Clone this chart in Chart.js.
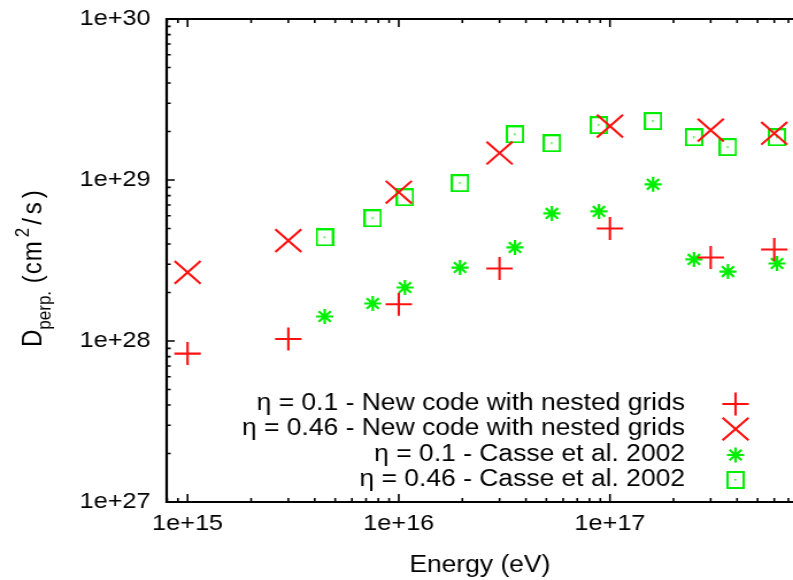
<!DOCTYPE html>
<html>
<head>
<meta charset="utf-8">
<script src="https://cdn.jsdelivr.net/npm/chart.js@4/dist/chart.umd.min.js"></script>
<style>
  html, body { margin: 0; padding: 0; background: #fff; overflow: hidden; }
  /* the source figure is stretched sideways, so the whole canvas is too */
  #wrap { width: 690px; height: 580px; transform: scaleX(1.1493); transform-origin: 0 0; }
</style>
</head>
<body>
<div id="wrap"><canvas id="chart" width="690" height="580"></canvas></div>
<script>
// ==========================================
// 1. Data
// ==========================================
const energyNew = [1e15, 3e15, 1e16, 3e16, 1e17, 3e17, 6e17];
const dNewEta01 = [8.35e27, 1.03e28, 1.69e28, 2.82e28, 5.0e28, 3.3e28, 3.7e28];
const dNewEta046 = [2.67e28, 4.2e28, 8.4e28, 1.47e29, 2.16e29, 2.04e29, 1.95e29];

const energyCasse = [4.46e15, 7.53e15, 1.07e16, 1.95e16, 3.55e16, 5.31e16, 8.87e16, 1.6e17, 2.5e17, 3.62e17, 6.18e17];
const dCasseEta01 = [1.42e28, 1.71e28, 2.15e28, 2.86e28, 3.81e28, 6.2e28, 6.38e28, 9.4e28, 3.21e28, 2.7e28, 3.03e28];
const dCasseEta046 = [4.4e28, 5.78e28, 7.8e28, 9.55e28, 1.92e29, 1.69e29, 2.19e29, 2.32e29, 1.84e29, 1.6e29, 1.84e29];

const seriesLabels = [
    'η = 0.1 - New code with nested grids',
    'η = 0.46 - New code with nested grids',
    'η = 0.1 - Casse et al. 2002',
    'η = 0.46 - Casse et al. 2002'
];
const xTicks = [1e15, 1e16, 1e17];
const yTicks = [1e27, 1e28, 1e29, 1e30];

const RED = '#ff1010';
const GREEN = '#00ee00';
const FONT = '"Liberation Sans", Arial, sans-serif';

// ==========================================
// 2. Helpers
// ==========================================
function pairs(xs, ys) {
    return xs.map((x, i) => ({ x: x, y: ys[i] }));
}

// gnuplot style box with a dot in the middle
function boxDot(color) {
    const c = document.createElement('canvas');
    c.width = 16; c.height = 18;
    const g = c.getContext('2d');
    g.strokeStyle = color;
    g.lineWidth = 2;
    g.strokeRect(1, 1, 14, 16);
    g.fillStyle = color;
    g.fillRect(7, 8, 1.5, 1.5);
    return c;
}
const boxStyle = boxDot(GREEN);

function expLabel(v) {
    return '1e+' + Math.round(Math.log10(v));
}

// keep the plot box exactly where the layout padding / sizes put it
function noEdgePadding(s) {
    s.paddingTop = 0; s.paddingBottom = 0;
    s.paddingLeft = 0; s.paddingRight = 0;
}

function drawMarker(ctx, ds, x, y) {
    const r = ds.pointRadius;
    ctx.save();
    ctx.strokeStyle = ds.borderColor;
    ctx.lineWidth = ds.borderWidth;
    ctx.beginPath();
    if (ds.pointStyle === 'cross' || ds.pointStyle === 'star') {
        ctx.moveTo(x - r, y); ctx.lineTo(x + r, y);
        ctx.moveTo(x, y - r); ctx.lineTo(x, y + r);
    }
    if (ds.pointStyle === 'crossRot' || ds.pointStyle === 'star') {
        const d = r * Math.SQRT1_2;
        ctx.moveTo(x - d, y - d); ctx.lineTo(x + d, y + d);
        ctx.moveTo(x - d, y + d); ctx.lineTo(x + d, y - d);
    }
    ctx.stroke();
    if (ds.pointStyle instanceof HTMLCanvasElement) {
        ctx.drawImage(ds.pointStyle, x - ds.pointStyle.width / 2, y - ds.pointStyle.height / 2);
    }
    ctx.restore();
}

// ==========================================
// 3. Plugins: frame + inward ticks, y title, legend
// ==========================================
const frameTicks = {
    id: 'frameTicks',
    beforeDatasetsDraw(chart) {
        const { ctx, chartArea: a, scales } = chart;
        ctx.save();
        ctx.strokeStyle = '#000';
        ctx.lineWidth = 1.6;
        ctx.beginPath();
        for (let e = 14; e <= 17; e++) {
            for (let m = 1; m <= 9; m++) {
                const v = m * Math.pow(10, e);
                if (v < scales.x.min || v > scales.x.max) continue;
                const px = scales.x.getPixelForValue(v);
                const len = m === 1 ? 8 : 4;
                ctx.moveTo(px, a.bottom); ctx.lineTo(px, a.bottom - len);
                ctx.moveTo(px, a.top); ctx.lineTo(px, a.top + len);
            }
        }
        for (let e = 27; e <= 30; e++) {
            for (let m = 1; m <= 9; m++) {
                const v = m * Math.pow(10, e);
                if (v < scales.y.min || v > scales.y.max * 1.0001) continue;
                const py = scales.y.getPixelForValue(v);
                const len = m === 1 ? 7 : 3.5;
                ctx.moveTo(a.left, py); ctx.lineTo(a.left + len, py);
            }
        }
        ctx.stroke();
        ctx.lineWidth = 2.2;
        ctx.beginPath();
        ctx.moveTo(chart.width, a.top);
        ctx.lineTo(a.left, a.top);
        ctx.lineTo(a.left, a.bottom);
        ctx.lineTo(chart.width, a.bottom);
        ctx.stroke();
        ctx.restore();
    }
};

const yTitle = {
    id: 'yTitle',
    afterDraw(chart) {
        const ctx = chart.ctx;
        // text, size, baseline shift, extra gap after, letter spacing
        const parts = [
            ['D', 24, 0, 0, 0],
            ['perp.', 17, 8, 0, 0],
            [' (cm', 24, 0, 3, 1],
            ['2', 17, -11, 3, 0],
            ['/s)', 24, 0, 0, 4]
        ];
        ctx.save();
        ctx.translate(36, 347);
        ctx.rotate(-Math.PI / 2);
        ctx.fillStyle = '#000';
        ctx.textBaseline = 'alphabetic';
        ctx.textAlign = 'left';
        let x = 0;
        parts.forEach(p => {
            ctx.font = p[1] + 'px ' + FONT;
            ctx.letterSpacing = p[4] + 'px';
            ctx.fillText(p[0], x, p[2]);
            x += ctx.measureText(p[0]).width + p[3];
        });
        ctx.restore();
    }
};

const keyBox = {
    id: 'keyBox',
    afterDraw(chart) {
        const ctx = chart.ctx;
        const rows = [404, 429, 455, 480];
        ctx.save();
        ctx.font = '23px ' + FONT;
        ctx.fillStyle = '#000';
        ctx.textAlign = 'right';
        ctx.textBaseline = 'middle';
        chart.data.datasets.forEach((ds, i) => {
            ctx.fillText(ds.label, 596, rows[i]);
            drawMarker(ctx, ds, 640, rows[i]);
        });
        ctx.restore();
    }
};

// ==========================================
// 4. Chart
// ==========================================
new Chart(document.getElementById('chart'), {
    type: 'scatter',
    data: {
        datasets: [
            { label: seriesLabels[0], data: pairs(energyNew, dNewEta01), pointStyle: 'cross', pointRadius: 11.5, borderColor: RED, backgroundColor: RED, borderWidth: 2.1 },
            { label: seriesLabels[1], data: pairs(energyNew, dNewEta046), pointStyle: 'crossRot', pointRadius: 16, borderColor: RED, backgroundColor: RED, borderWidth: 2.1 },
            { label: seriesLabels[2], data: pairs(energyCasse, dCasseEta01), pointStyle: 'star', pointRadius: 7.5, borderColor: GREEN, backgroundColor: GREEN, borderWidth: 2.2 },
            { label: seriesLabels[3], data: pairs(energyCasse, dCasseEta046), pointStyle: boxStyle, pointRadius: 8, borderColor: GREEN, backgroundColor: 'rgba(0,0,0,0)', borderWidth: 2 }
        ].map(d => Object.assign(d, { clip: false, pointHoverRadius: d.pointRadius }))
    },
    options: {
        responsive: false,
        animation: false,
        events: [],
        layout: { autoPadding: false, padding: { top: 19, right: 0, bottom: 0, left: 0 } },
        plugins: { legend: { display: false }, tooltip: { enabled: false } },
        scales: {
            x: {
                type: 'logarithmic',
                min: 7.96e14,
                max: 7.36e17,
                afterBuildTicks: s => { s.ticks = xTicks.map(v => ({ value: v })); },
                afterFit: s => { s.height = 78; noEdgePadding(s); },
                grid: { display: false, drawTicks: false },
                border: { display: false },
                ticks: {
                    callback: v => expLabel(v),
                    color: '#000', font: { family: FONT, size: 22 },
                    padding: 9, maxRotation: 0, autoSkip: false
                },
                title: {
                    display: true, text: 'Energy (eV)', color: '#000',
                    font: { family: FONT, size: 23 }, padding: { top: 0, bottom: 1 }
                }
            },
            y: {
                type: 'logarithmic',
                min: 1e27,
                max: 1e30,
                afterBuildTicks: s => { s.ticks = yTicks.map(v => ({ value: v })); },
                afterFit: s => { s.width = 145; noEdgePadding(s); },
                grid: { display: false, drawTicks: false },
                border: { display: false },
                ticks: {
                    callback: v => expLabel(v),
                    color: '#000', font: { family: FONT, size: 22 },
                    padding: 14, autoSkip: false
                }
            }
        }
    },
    plugins: [frameTicks, yTitle, keyBox]
});
</script>
</body>
</html>
